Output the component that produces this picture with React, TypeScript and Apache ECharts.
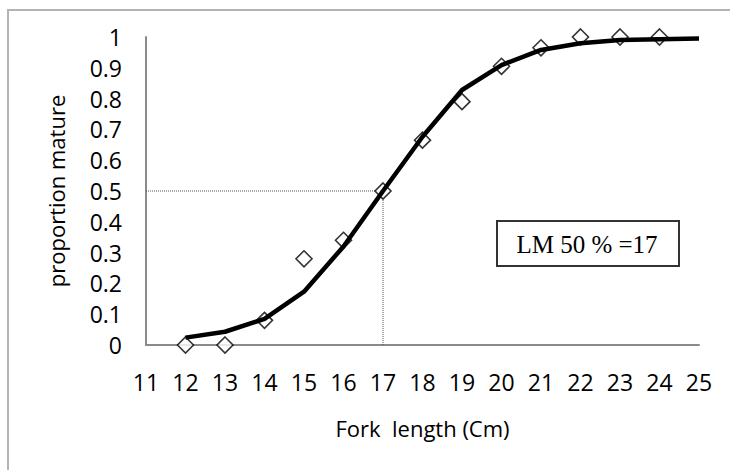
import React, { useEffect, useRef } from "react";
import * as echarts from "echarts";

// Observed proportion mature by fork length (cm)
const lengths = [12, 13, 14, 15, 16, 17, 18, 19, 20, 21, 22, 23, 24];
const observed = [0, 0, 0.08, 0.28, 0.34, 0.5, 0.665, 0.79, 0.905, 0.965, 1.0, 1.0, 1.0];

// Fitted logistic curve
const fitLengths = [12, 13, 14, 15, 16, 17, 18, 19, 20, 21, 22, 23, 24, 25];
const fitted = [0.024, 0.043, 0.085, 0.173, 0.32, 0.5, 0.676, 0.828, 0.909, 0.958, 0.98, 0.99, 0.993, 0.995];

const lm50 = 17;
const xMin = 11;
const xMax = 25;
const annotation = "LM 50 % =17";

export default function App() {
  const ref = useRef<HTMLDivElement>(null);
  useEffect(() => {
    if (!ref.current) return;
    const chart = echarts.init(ref.current, null, { renderer: "svg" });
    const sans = "Open Sans";
    chart.setOption({
      animation: false,
      backgroundColor: "#ffffff",
      grid: { left: 146, right: 31, top: 37, bottom: 125, containLabel: false },
      xAxis: {
        type: "value",
        min: xMin,
        max: xMax,
        interval: 1,
        name: "Fork  length (Cm)",
        nameLocation: "middle",
        nameGap: 72,
        nameTextStyle: { fontFamily: sans, fontSize: 22, color: "#000" },
        axisLine: { show: true, onZero: false, lineStyle: { color: "#8a8a8a", width: 2 } },
        axisTick: { show: false },
        splitLine: { show: false },
        axisLabel: { fontFamily: sans, fontSize: 23, color: "#000", margin: 25 },
      },
      yAxis: {
        type: "value",
        min: 0,
        max: 1,
        interval: 0.1,
        name: "proportion mature",
        nameLocation: "middle",
        nameRotate: 90,
        nameGap: 79,
        nameTextStyle: { fontFamily: sans, fontSize: 22, color: "#000" },
        axisLine: { show: true, lineStyle: { color: "#8a8a8a", width: 2 } },
        axisTick: { show: false },
        splitLine: { show: false },
        axisLabel: {
          fontFamily: sans,
          fontSize: 23,
          color: "#000",
          margin: 24,
          formatter: (v: number) => String(Math.round(v * 10) / 10),
        },
      },
      graphic: [
        {
          type: "rect",
          shape: { x: 8, y: 10, width: 760, height: 500 },
          style: { fill: "none", stroke: "#b4b4b4", lineWidth: 2 },
          silent: true,
        },
        {
          type: "rect",
          shape: { x: 497, y: 221, width: 182, height: 45 },
          style: { fill: "#ffffff", stroke: "#333333", lineWidth: 2 },
          z: 10,
        },
        {
          type: "text",
          x: 587,
          y: 244,
          style: {
            text: annotation,
            fontFamily: "Liberation Serif",
            fontSize: 25,
            fill: "#000",
            align: "center",
            verticalAlign: "middle",
          },
          z: 11,
        },
      ],
      series: [
        {
          type: "line",
          data: [
            [xMin, 0.5],
            [lm50, 0.5],
            [lm50, 0],
          ],
          symbol: "none",
          lineStyle: { color: "#555", width: 1, type: [1, 1] },
          z: 1,
        },
        {
          type: "scatter",
          data: lengths.map((x, i) => [x, observed[i]]),
          symbol: "diamond",
          symbolSize: 16,
          itemStyle: { color: "#ffffff", borderColor: "#000", borderWidth: 1.6 },
          z: 2,
        },
        {
          type: "line",
          data: fitLengths.map((x, i) => [x, fitted[i]]),
          symbol: "none",
          smooth: false,
          lineStyle: { color: "#000", width: 4.5 },
          z: 3,
        },
      ],
    });
    return () => chart.dispose();
  }, []);
  return (
    <div
      ref={ref}
      style={{ position: "fixed", left: 0, top: 0, width: 730, height: 470 }}
    />
  );
}
